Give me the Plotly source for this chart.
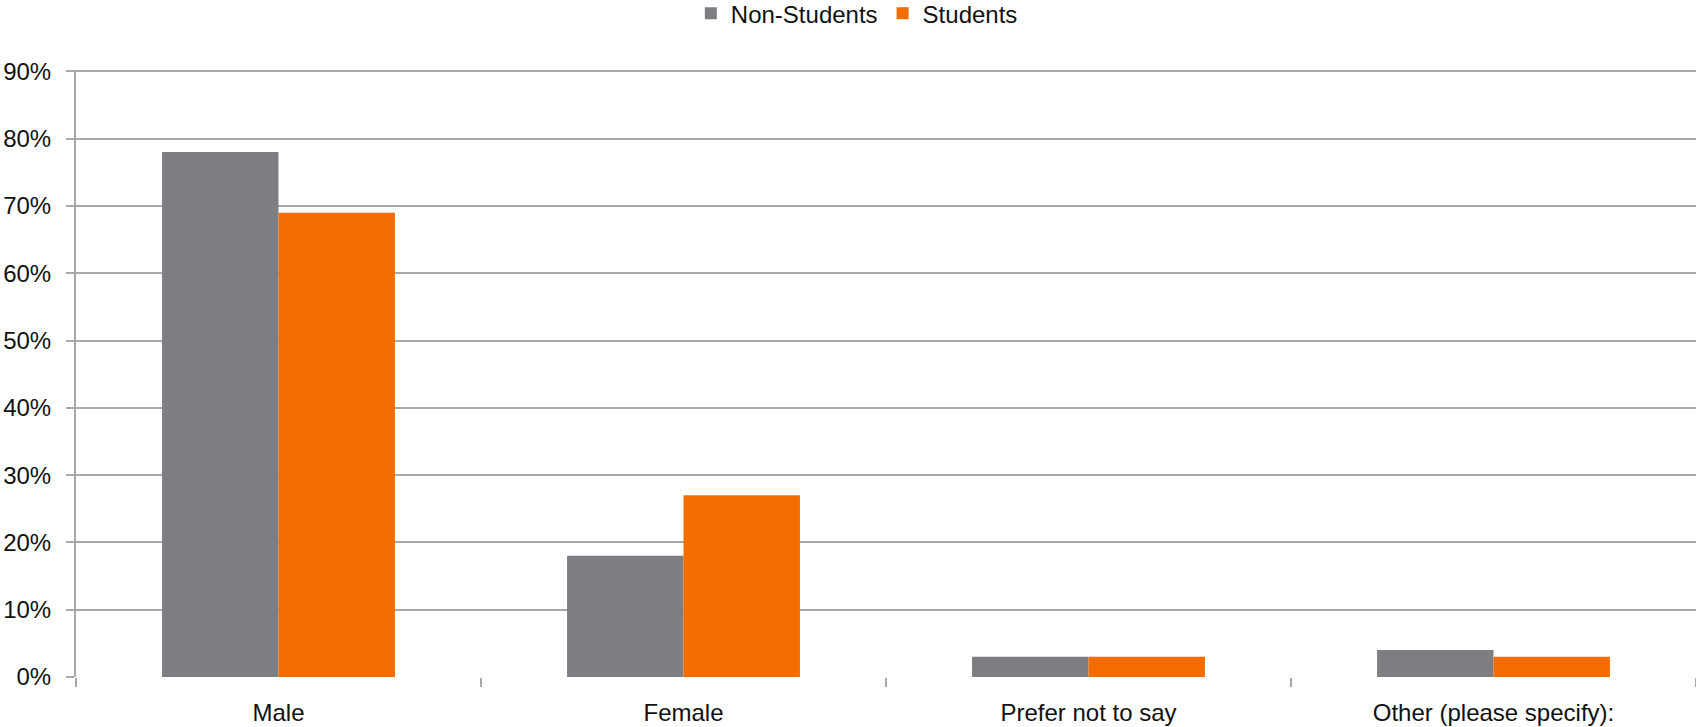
import plotly.graph_objects as go

categories = ["Male", "Female", "Prefer not to say", "Other (please specify):"]
non_students = [78, 18, 3, 4]
students = [69, 27, 3, 3]
y_ticks = [0, 10, 20, 30, 40, 50, 60, 70, 80, 90]
y_tick_labels = [f"{v}%" for v in y_ticks]

FONT = "Liberation Sans, Arial, sans-serif"
GRID = "#a8a8a8"

fig = go.Figure()
fig.add_trace(go.Bar(name="Non-Students", x=categories, y=non_students,
                     marker=dict(color="#7d7e82", line=dict(width=0))))
fig.add_trace(go.Bar(name="Students", x=categories, y=students,
                     marker=dict(color="#f36d00", line=dict(width=0))))

fig.update_layout(
    width=1696, height=727,
    margin=dict(l=76, r=0, t=70, b=50, autoexpand=False),
    paper_bgcolor="white", plot_bgcolor="white",
    barmode="group", bargap=0.425, bargroupgap=0,
    font=dict(family=FONT, size=24, color="#111111"),
    showlegend=True,
    legend=dict(orientation="h", x=0.482, xanchor="center",
                y=1.13, yanchor="top", yref="paper",
                font=dict(size=24), traceorder="normal",
                bgcolor="rgba(0,0,0,0)", itemwidth=30),
)

fig.update_xaxes(
    showgrid=False, showline=False, ticks="outside", tickson="boundaries",
    ticklen=9, tickwidth=2, tickcolor=GRID, tickfont=dict(size=24),
    ticklabelstandoff=19,
)
fig.update_yaxes(
    range=[0, 90.2], tickvals=y_ticks, ticktext=y_tick_labels,
    showgrid=True, gridcolor=GRID, gridwidth=2,
    showline=True, linecolor=GRID, linewidth=2,
    ticks="outside", ticklen=8, tickwidth=2, tickcolor=GRID,
    tickfont=dict(size=24), zeroline=False, ticklabelstandoff=10,
)

fig.write_html(
    "out.html",
    config={"displayModeBar": False},
    post_script="document.body.style.margin='0';document.body.style.overflow='hidden';",
)
